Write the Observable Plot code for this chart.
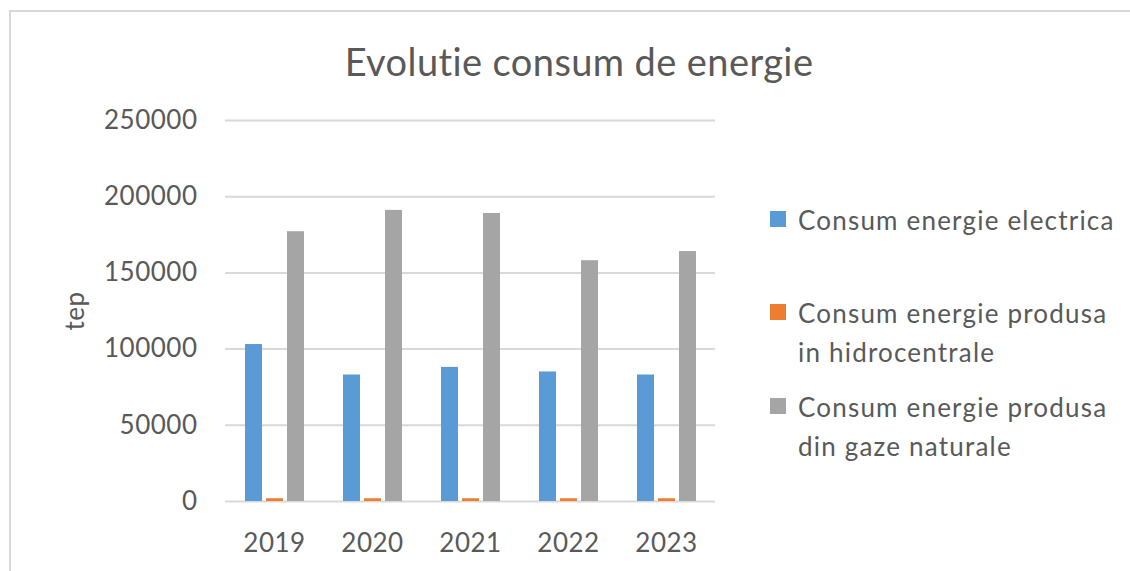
<!DOCTYPE html>
<html>
<head>
<meta charset="utf-8">
<script src="https://cdn.jsdelivr.net/npm/d3@7"></script>
<script src="https://cdn.jsdelivr.net/npm/@observablehq/plot@0.6"></script>
<style>
  html, body { margin: 0; padding: 0; background: #fff; overflow: hidden; }
  #wrap { position: relative; width: 1130px; height: 571px; overflow: hidden; font-family: Lato, "Open Sans", sans-serif; color: #595959; font-variant-ligatures: none; }
  #border { position: absolute; left: 9px; top: 10px; width: 1121px; height: 561px; border-left: 2px solid #d9d9d9; border-top: 2px solid #d9d9d9; box-sizing: border-box; }
  #title { position: relative; height: 100px; text-align: center; font-size: 38px; line-height: 1; letter-spacing: 0.4px; }
  #title span { position: absolute; left: 28px; right: 0; top: 42px; }
  #legend { position: absolute; left: 770px; top: 0; font-size: 26px; line-height: 39px; letter-spacing: 1.2px; }
  .item { position: absolute; left: 0; white-space: nowrap; }
  .sw { position: absolute; left: 0; width: 16px; height: 16px; }
  .lbl { position: absolute; left: 28px; white-space: nowrap; }
  #chart svg text { font-variant-ligatures: none; }
</style>
</head>
<body>
<div id="wrap">
  <div id="border"></div>
  <div id="title"><span>Evolutie consum de energie</span></div>
  <div id="chart"></div>
  <div id="legend"></div>
</div>
<script>
const years = ["2019", "2020", "2021", "2022", "2023"];
const seriesNames = [
  "Consum energie electrica",
  "Consum energie produsa in hidrocentrale",
  "Consum energie produsa din gaze naturale"
];
const legendLines = [
  ["Consum energie electrica"],
  ["Consum energie produsa", "in hidrocentrale"],
  ["Consum energie produsa", "din gaze naturale"]
];
const electrica = [103000, 83000, 88000, 85000, 83000];
const hidro = [1800, 1800, 1800, 1800, 1800];
const gaze = [177000, 191000, 189000, 158000, 164000];
const yTicks = [0, 50000, 100000, 150000, 200000, 250000];
const colors = ["#5B9BD5", "#ED7D31", "#A5A5A5"];

const seriesValues = [electrica, hidro, gaze];
const data = [];
years.forEach((y, i) => {
  seriesNames.forEach((s, j) => data.push({year: y, series: s, value: seriesValues[j][i]}));
});

const chart = Plot.plot({
  width: 1130,
  height: 471,
  marginTop: 20,
  marginBottom: 70,
  marginLeft: 225,
  marginRight: 415,
  style: {fontFamily: "Lato, 'Open Sans', sans-serif", fontSize: "26px", color: "#595959", background: "transparent", letterSpacing: "0.5px"},
  fx: {domain: years, padding: 0, label: null, axis: "bottom", tickSize: 0, tickPadding: 32},
  x: {domain: seriesNames, paddingInner: 0.2, paddingOuter: 0.93, axis: null},
  y: {domain: [0, 250000], ticks: yTicks, label: "tep", labelAnchor: "center", labelArrow: "none", labelOffset: 160, tickSize: 0, tickPadding: 28, tickFormat: d => String(d)},
  color: {domain: seriesNames, range: colors},
  marks: [
    Plot.gridY(yTicks, {stroke: "#d9d9d9", strokeOpacity: 1, strokeWidth: 2}),
    Plot.barY(data, {fx: "year", x: "series", y: "value", fill: "series"})
  ]
});
document.getElementById("chart").appendChild(chart);

const legend = document.getElementById("legend");
const itemTops = [201, 294, 388];
legendLines.forEach((lines, i) => {
  const it = document.createElement("div");
  it.className = "item";
  it.style.top = itemTops[i] + "px";
  const sw = document.createElement("div");
  sw.className = "sw";
  sw.style.background = colors[i];
  sw.style.top = "10px";
  it.appendChild(sw);
  const lb = document.createElement("div");
  lb.className = "lbl";
  lb.innerHTML = lines.join("<br>");
  it.appendChild(lb);
  legend.appendChild(it);
});
</script>
</body>
</html>
